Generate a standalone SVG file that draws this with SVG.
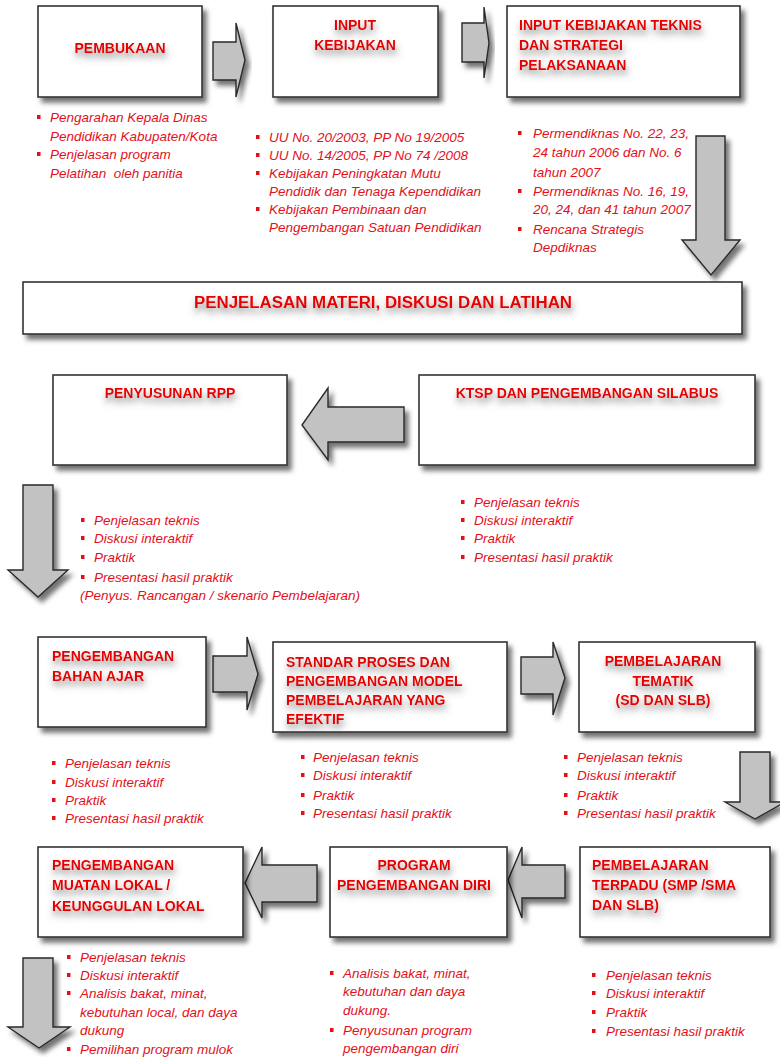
<svg xmlns="http://www.w3.org/2000/svg" width="780" height="1057" viewBox="0 0 780 1057">
<defs>
<filter id="sh" x="-10%" y="-10%" width="130%" height="140%">
<feDropShadow dx="4" dy="5" stdDeviation="2.5" flood-color="#000" flood-opacity="0.55"/>
</filter>
<filter id="tg" x="-10%" y="-60%" width="120%" height="260%">
<feGaussianBlur in="SourceAlpha" stdDeviation="3.5" result="b"/>
<feOffset in="b" dx="1" dy="5" result="o"/>
<feFlood flood-color="#666" flood-opacity="0.75"/>
<feComposite in2="o" operator="in" result="s"/>
<feMerge><feMergeNode in="s"/><feMergeNode in="SourceGraphic"/></feMerge>
</filter>
</defs>
<style>
.box{fill:#fff;stroke:#333;stroke-width:1.6;filter:url(#sh)}
.arr{fill:#c2c2c2;stroke:#2a2a2a;stroke-width:1.4;stroke-linejoin:miter;filter:url(#sh)}
.t{font-family:"Liberation Sans",Arial,sans-serif;font-weight:bold;font-size:14px;fill:#e60000;filter:url(#tg)}
.c{text-anchor:middle}
.l{font-family:"Liberation Sans",Arial,sans-serif;font-style:italic;font-size:13.5px;fill:#e3101a}
.b{fill:#e3101a}
</style>
<rect width="780" height="1057" fill="#fff"/>

<g id="connectors">
<polygon class="arr" points="213,42 236,42 236,23 245,60 236,97 236,80 213,80"/>
<polygon class="arr" points="462,23 484,23 484,7 489,43 484,78 484,62 462,62"/>
<polygon class="arr" points="696,136 725,136 725,240 740,240 711,275 682,240 696,240"/>
<polygon class="arr" points="404,407 328,407 328,388 302,425 328,460 328,442 404,442"/>
<polygon class="arr" points="23,485 53,485 53,570 68,570 38,597 8,570 23,570"/>
<polygon class="arr" points="213,656 247,656 247,637 258,674 247,710 247,692 213,692"/>
<polygon class="arr" points="521,657 553,657 553,642 565,678 553,715 553,694 521,694"/>
<polygon class="arr" points="740,752 770,752 770,802 785,802 755,819 725,802 740,802"/>
<polygon class="arr" points="317,865 262,865 262,847 245,883 262,918 262,902 317,902"/>
<polygon class="arr" points="565,865 522,865 522,847 508,880 522,918 522,898 565,898"/>
<polygon class="arr" points="23,958 53,958 53,1027 70,1027 39,1048 8,1027 23,1027"/>
</g>

<g id="pembukaan">
<rect class="box" x="38" y="6" width="164" height="91"/>
<text class="t c" x="120" y="53">PEMBUKAAN</text>
<rect class="b" x="37" y="115" width="3.5" height="4"/>
<text class="l" x="50" y="122">Pengarahan Kepala Dinas</text>
<text class="l" x="50" y="141">Pendidikan Kabupaten/Kota</text>
<rect class="b" x="37" y="152" width="3.5" height="4"/>
<text class="l" x="50" y="159">Penjelasan program</text>
<text class="l" x="50" y="178" xml:space="preserve">Pelatihan  oleh panitia</text>
</g>

<g id="input-kebijakan">
<rect class="box" x="273" y="6" width="165" height="91"/>
<text class="t c" x="355" y="30">INPUT</text>
<text class="t c" x="355" y="50">KEBIJAKAN</text>
<rect class="b" x="256" y="135" width="3.5" height="4"/>
<text class="l" x="269" y="142">UU No. 20/2003, PP No 19/2005</text>
<rect class="b" x="256" y="153" width="3.5" height="4"/>
<text class="l" x="269" y="160">UU No. 14/2005, PP No 74 /2008</text>
<rect class="b" x="256" y="171" width="3.5" height="4"/>
<text class="l" x="269" y="178">Kebijakan Peningkatan Mutu</text>
<text class="l" x="269" y="196">Pendidik dan Tenaga Kependidikan</text>
<rect class="b" x="256" y="207" width="3.5" height="4"/>
<text class="l" x="269" y="214">Kebijakan Pembinaan dan</text>
<text class="l" x="269" y="232">Pengembangan Satuan Pendidikan</text>
</g>

<g id="input-teknis">
<rect class="box" x="507" y="6" width="233" height="91"/>
<text class="t" x="519" y="30">INPUT KEBIJAKAN TEKNIS</text>
<text class="t" x="519" y="50">DAN STRATEGI</text>
<text class="t" x="519" y="70">PELAKSANAAN</text>
<rect class="b" x="518" y="131" width="3.5" height="4"/>
<text class="l" x="533" y="138">Permendiknas No. 22, 23,</text>
<text class="l" x="533" y="157">24 tahun 2006 dan No. 6</text>
<text class="l" x="533" y="177">tahun 2007</text>
<rect class="b" x="518" y="189" width="3.5" height="4"/>
<text class="l" x="533" y="196">Permendiknas No. 16, 19,</text>
<text class="l" x="533" y="214">20, 24, dan 41 tahun 2007</text>
<rect class="b" x="518" y="227" width="3.5" height="4"/>
<text class="l" x="533" y="234">Rencana Strategis</text>
<text class="l" x="533" y="252">Depdiknas</text>
</g>

<g id="penjelasan-materi">
<rect class="box" x="23" y="282" width="719" height="52"/>
<text class="t c" x="383" y="308" textLength="378" lengthAdjust="spacingAndGlyphs" style="font-size:16px">PENJELASAN MATERI, DISKUSI DAN LATIHAN</text>
</g>

<g id="penyusunan-rpp">
<rect class="box" x="53" y="375" width="234" height="90"/>
<text class="t c" x="170" y="398">PENYUSUNAN RPP</text>
<rect class="b" x="81" y="518" width="3.5" height="4"/>
<text class="l" x="94" y="525">Penjelasan teknis</text>
<rect class="b" x="81" y="536" width="3.5" height="4"/>
<text class="l" x="94" y="543">Diskusi interaktif</text>
<rect class="b" x="81" y="555" width="3.5" height="4"/>
<text class="l" x="94" y="562">Praktik</text>
<rect class="b" x="81" y="575" width="3.5" height="4"/>
<text class="l" x="94" y="582">Presentasi hasil praktik</text>
<text class="l" x="80" y="600">(Penyus. Rancangan / skenario Pembelajaran)</text>
</g>

<g id="ktsp">
<rect class="box" x="419" y="375" width="336" height="90"/>
<text class="t c" x="587" y="398">KTSP DAN PENGEMBANGAN SILABUS</text>
<rect class="b" x="461" y="500" width="3.5" height="4"/>
<text class="l" x="474" y="507">Penjelasan teknis</text>
<rect class="b" x="461" y="518" width="3.5" height="4"/>
<text class="l" x="474" y="525">Diskusi interaktif</text>
<rect class="b" x="461" y="536" width="3.5" height="4"/>
<text class="l" x="474" y="543">Praktik</text>
<rect class="b" x="461" y="555" width="3.5" height="4"/>
<text class="l" x="474" y="562">Presentasi hasil praktik</text>
</g>

<g id="bahan-ajar">
<rect class="box" x="38" y="637" width="168" height="90"/>
<text class="t" x="52" y="661">PENGEMBANGAN</text>
<text class="t" x="52" y="681">BAHAN AJAR</text>
<rect class="b" x="52" y="761" width="3.5" height="4"/>
<text class="l" x="65" y="768">Penjelasan teknis</text>
<rect class="b" x="52" y="780" width="3.5" height="4"/>
<text class="l" x="65" y="787">Diskusi interaktif</text>
<rect class="b" x="52" y="798" width="3.5" height="4"/>
<text class="l" x="65" y="805">Praktik</text>
<rect class="b" x="52" y="816" width="3.5" height="4"/>
<text class="l" x="65" y="823">Presentasi hasil praktik</text>
</g>

<g id="standar-proses">
<rect class="box" x="273" y="642" width="234" height="90"/>
<text class="t" x="286" y="667">STANDAR PROSES DAN</text>
<text class="t" x="286" y="686">PENGEMBANGAN MODEL</text>
<text class="t" x="286" y="705">PEMBELAJARAN YANG</text>
<text class="t" x="286" y="724">EFEKTIF</text>
<rect class="b" x="301" y="755" width="3.5" height="4"/>
<text class="l" x="313" y="762">Penjelasan teknis</text>
<rect class="b" x="301" y="773" width="3.5" height="4"/>
<text class="l" x="313" y="780">Diskusi interaktif</text>
<rect class="b" x="301" y="793" width="3.5" height="4"/>
<text class="l" x="313" y="800">Praktik</text>
<rect class="b" x="301" y="811" width="3.5" height="4"/>
<text class="l" x="313" y="818">Presentasi hasil praktik</text>
</g>

<g id="tematik">
<rect class="box" x="579" y="642" width="176" height="90"/>
<text class="t c" x="663" y="666">PEMBELAJARAN</text>
<text class="t c" x="663" y="686">TEMATIK</text>
<text class="t c" x="663" y="705">(SD DAN SLB)</text>
<rect class="b" x="564" y="755" width="3.5" height="4"/>
<text class="l" x="577" y="762">Penjelasan teknis</text>
<rect class="b" x="564" y="773" width="3.5" height="4"/>
<text class="l" x="577" y="780">Diskusi interaktif</text>
<rect class="b" x="564" y="793" width="3.5" height="4"/>
<text class="l" x="577" y="800">Praktik</text>
<rect class="b" x="564" y="811" width="3.5" height="4"/>
<text class="l" x="577" y="818">Presentasi hasil praktik</text>
</g>

<g id="muatan-lokal">
<rect class="box" x="38" y="847" width="205" height="90"/>
<text class="t" x="52" y="870">PENGEMBANGAN</text>
<text class="t" x="52" y="890">MUATAN LOKAL /</text>
<text class="t" x="52" y="911">KEUNGGULAN LOKAL</text>
<rect class="b" x="67" y="955" width="3.5" height="4"/>
<text class="l" x="80" y="962">Penjelasan teknis</text>
<rect class="b" x="67" y="973" width="3.5" height="4"/>
<text class="l" x="80" y="980">Diskusi interaktif</text>
<rect class="b" x="67" y="991" width="3.5" height="4"/>
<text class="l" x="80" y="998">Analisis bakat, minat,</text>
<text class="l" x="80" y="1017">kebutuhan local, dan daya</text>
<text class="l" x="80" y="1035">dukung</text>
<rect class="b" x="67" y="1047" width="3.5" height="4"/>
<text class="l" x="80" y="1054">Pemilihan program mulok</text>
</g>

<g id="pengembangan-diri">
<rect class="box" x="330" y="847" width="177" height="90"/>
<text class="t c" x="414" y="870">PROGRAM</text>
<text class="t c" x="414" y="890">PENGEMBANGAN DIRI</text>
<rect class="b" x="330" y="971" width="3.5" height="4"/>
<text class="l" x="343" y="978">Analisis bakat, minat,</text>
<text class="l" x="343" y="996">kebutuhan dan daya</text>
<text class="l" x="343" y="1015">dukung.</text>
<rect class="b" x="330" y="1028" width="3.5" height="4"/>
<text class="l" x="343" y="1035">Penyusunan program</text>
<text class="l" x="343" y="1053">pengembangan diri</text>
</g>

<g id="terpadu">
<rect class="box" x="580" y="847" width="190" height="90"/>
<text class="t" x="592" y="870">PEMBELAJARAN</text>
<text class="t" x="592" y="890">TERPADU (SMP /SMA</text>
<text class="t" x="592" y="910">DAN SLB)</text>
<rect class="b" x="592" y="973" width="3.5" height="4"/>
<text class="l" x="606" y="980">Penjelasan teknis</text>
<rect class="b" x="592" y="991" width="3.5" height="4"/>
<text class="l" x="606" y="998">Diskusi interaktif</text>
<rect class="b" x="592" y="1010" width="3.5" height="4"/>
<text class="l" x="606" y="1017">Praktik</text>
<rect class="b" x="592" y="1029" width="3.5" height="4"/>
<text class="l" x="606" y="1036">Presentasi hasil praktik</text>
</g>
</svg>
